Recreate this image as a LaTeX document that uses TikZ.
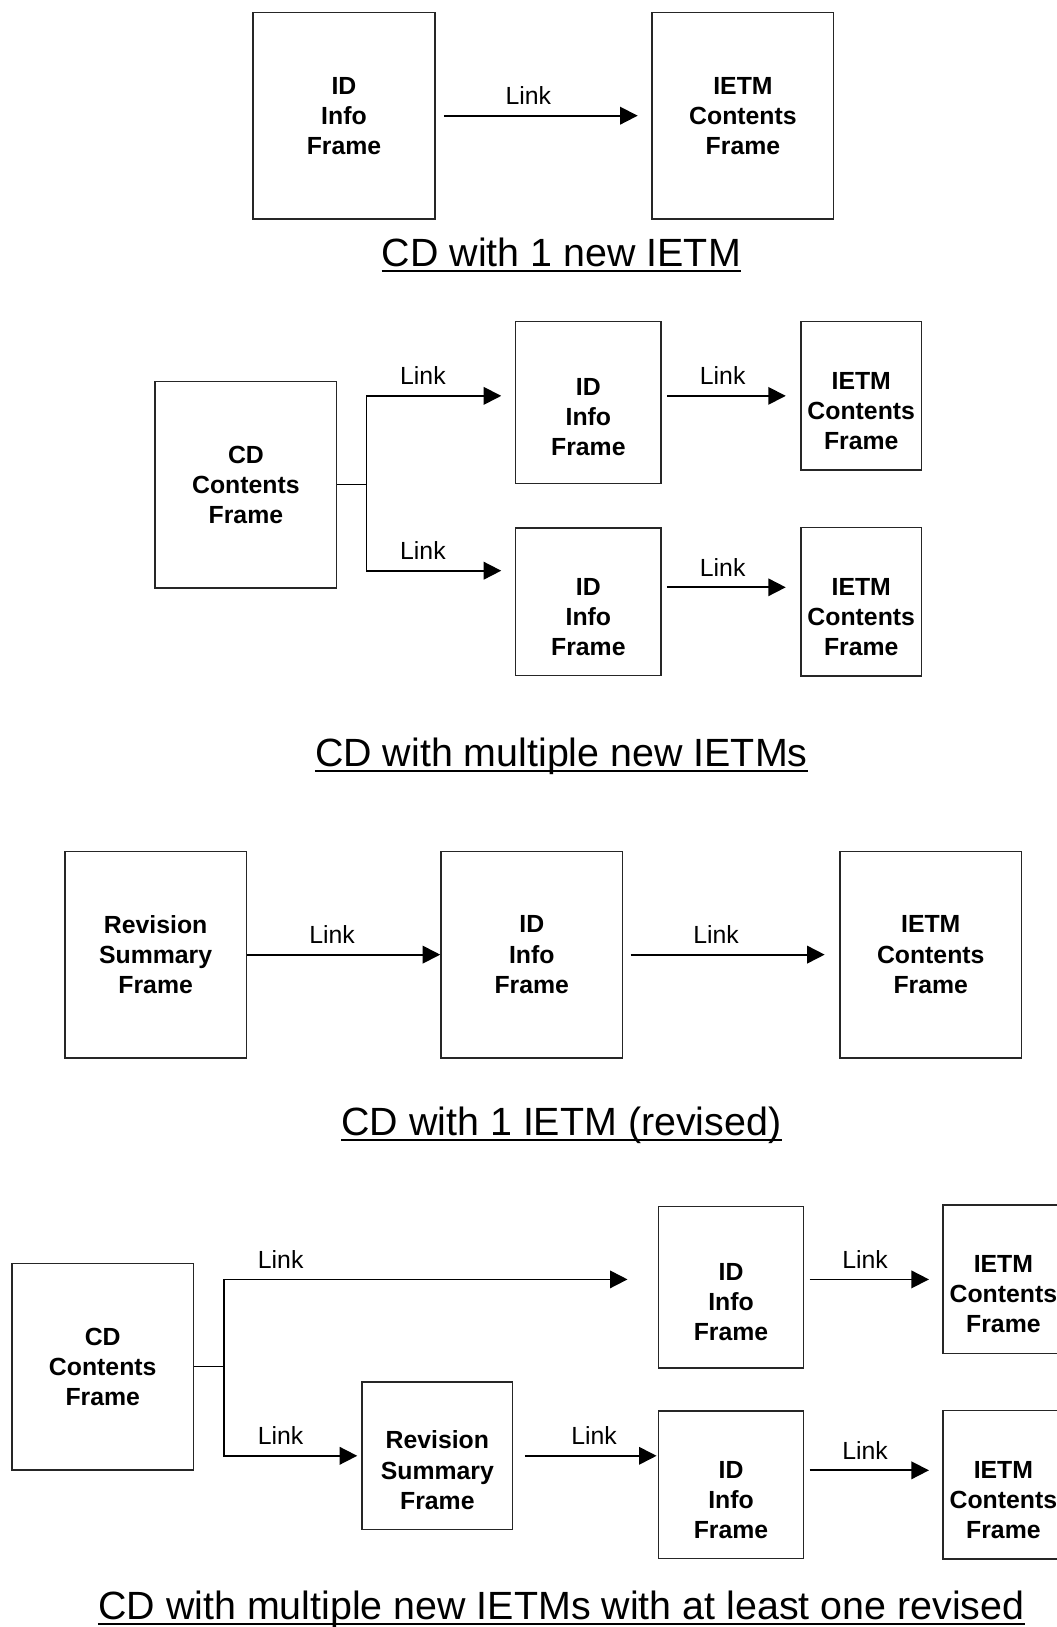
\documentclass[tikz,border=0pt]{standalone}
\usepackage{fontspec}
\setmainfont{Liberation Sans}
\usetikzlibrary{arrows.meta,calc,positioning}

\newcommand{\boxfont}{\fontsize{17}{20.6}\selectfont\bfseries}
\newcommand{\linkfont}{\fontsize{17}{20.6}\selectfont}
\newcommand{\titlefont}{\fontsize{27}{32}\selectfont}
\newcommand{\boxgap}{\rule{0pt}{32pt}}

\begin{document}
\begin{tikzpicture}[
  x=0.025cm, y=-0.025cm,
  box/.style={draw=black!85, line width=1pt, align=center, font=\boxfont, inner sep=0pt},
  bigbox/.style={box, minimum width=4.375cm, minimum height=4.975cm},
  tallbox/.style={box, minimum width=3.5cm, minimum height=3.9cm},
  shortbox/.style={box, minimum width=3.5cm, minimum height=3.55cm},
  slimbox/.style={box, minimum width=2.9cm, minimum height=3.575cm},
  revbox/.style={box, minimum width=3.625cm, minimum height=3.55cm},
  wire/.style={line width=1.2pt},
  arr/.style={wire, -{Triangle[length=12pt, width=12pt]}},
  lbl/.style={font=\linkfont, above, inner sep=7pt},
  ttl/.style={font=\titlefont, inner sep=0pt, anchor=base},
  uline/.style={line width=1.3pt},
]
\useasboundingbox (0,0) rectangle (1018,1568);

%% ── CD with 1 new IETM ──────────────────────────────────────────────────
\node[bigbox] (id1)   at (331.5, 111.5) {ID\\Info\\Frame};
\node[bigbox] (ietm1) at (716,   111.5) {IETM\\Contents\\Frame};

\draw[arr, shorten <=0.2cm, shorten >=0.33cm] (id1) -- node[lbl, pos=0.43]{Link} (ietm1);

\node[ttl] (t1) at (541, 257) {CD with 1 new IETM};
\draw[uline] ([yshift=-3pt]t1.base west) -- ([yshift=-3pt]t1.base east);

%% ── CD with multiple new IETMs ──────────────────────────────────────────
\node[bigbox]   (cd2)    at (237, 467)   {CD\\Contents\\Frame};
\node[tallbox]  (id2a)   at (567, 388)   {\boxgap ID\\Info\\Frame};
\node[shortbox] (id2b)   at (567, 580)   {\boxgap ID\\Info\\Frame};
\node[slimbox]  (ietm2a) at (830, 381.5) {\boxgap IETM\\Contents\\Frame};
\node[slimbox]  (ietm2b) at (830, 580)   {\boxgap IETM\\Contents\\Frame};

\coordinate (fork2) at ([xshift=0.7cm]cd2.east);
\draw[wire] (cd2.east) -- (fork2);
\draw[arr, shorten >=0.33cm] (fork2) |- node[lbl, pos=0.69]{Link} (id2a.west |- ietm2a.west);
\draw[arr, shorten >=0.33cm] (fork2) |- node[lbl, pos=0.69]{Link} ([yshift=0.75cm]id2b.west);

\draw[arr, shorten <=0.125cm, shorten >=0.35cm] (id2a.east |- ietm2a.west) -- node[lbl, pos=0.44]{Link} (ietm2a.west);
\draw[arr, shorten <=0.125cm, shorten >=0.35cm] ([yshift=0.35cm]id2b.east) -- node[lbl, pos=0.44]{Link} ([yshift=0.35cm]ietm2b.west);

\node[ttl] (t2) at (541, 739) {CD with multiple new IETMs};
\draw[uline] ([yshift=-3pt]t2.base west) -- ([yshift=-3pt]t2.base east);

%% ── CD with 1 IETM (revised) ────────────────────────────────────────────
\node[bigbox] (rev3)  at (150,   920) {Revision\\Summary\\Frame};
\node[bigbox] (id3)   at (512.5, 920) {ID\\Info\\Frame};
\node[bigbox] (ietm3) at (897,   920) {IETM\\Contents\\Frame};

\draw[arr] (rev3) -- node[lbl, pos=0.44]{Link} (id3);
\draw[arr, shorten <=0.175cm, shorten >=0.35cm] (id3) -- node[lbl, pos=0.43]{Link} (ietm3);

\node[ttl] (t3) at (541, 1094) {CD with 1 IETM (revised)};
\draw[uline] ([yshift=-3pt]t3.base west) -- ([yshift=-3pt]t3.base east);

%% ── CD with multiple new IETMs, one revised ─────────────────────────────
\node[bigbox]   (cd4)    at (99,    1317)   {CD\\Contents\\Frame};
\node[tallbox]  (id4a)   at (704.5, 1240.5) {\boxgap ID\\Info\\Frame};
\node[slimbox]  (ietm4a) at (967,   1233)   {\boxgap IETM\\Contents\\Frame};
\node[revbox]   (rev4)   at (421.5, 1403)   {\boxgap Revision\\Summary\\Frame};
\node[shortbox] (id4b)   at (704.5, 1431)   {\boxgap ID\\Info\\Frame};
\node[slimbox]  (ietm4b) at (967,   1431)   {\boxgap IETM\\Contents\\Frame};

\coordinate (fork4) at ([xshift=0.725cm]cd4.east);
\draw[wire] (cd4.east) -- (fork4);
\draw[arr, shorten >=0.725cm] (fork4) |- node[lbl, pos=0.565]{Link} (id4a.west |- ietm4a.west);
\draw[arr, shorten >=0.1cm] (fork4) |- node[lbl, pos=0.705]{Link} (rev4.west);

\draw[arr, shorten <=0.275cm, shorten >=0.025cm] (rev4.east) -- node[lbl, pos=0.56]{Link} (rev4.east -| id4b.west);
\draw[arr, shorten <=0.125cm, shorten >=0.325cm] (id4a.east |- ietm4a.west) -- node[lbl, pos=0.44]{Link} (ietm4a.west);
\draw[arr, shorten <=0.125cm, shorten >=0.325cm] ([yshift=0.35cm]id4b.east) -- node[lbl, pos=0.44]{Link} ([yshift=0.35cm]ietm4b.west);

\node[ttl] (t4) at (541, 1561) {CD with multiple new IETMs with at least one revised};
\draw[uline] ([yshift=-3pt]t4.base west) -- ([yshift=-3pt]t4.base east);
\end{tikzpicture}
\end{document}
